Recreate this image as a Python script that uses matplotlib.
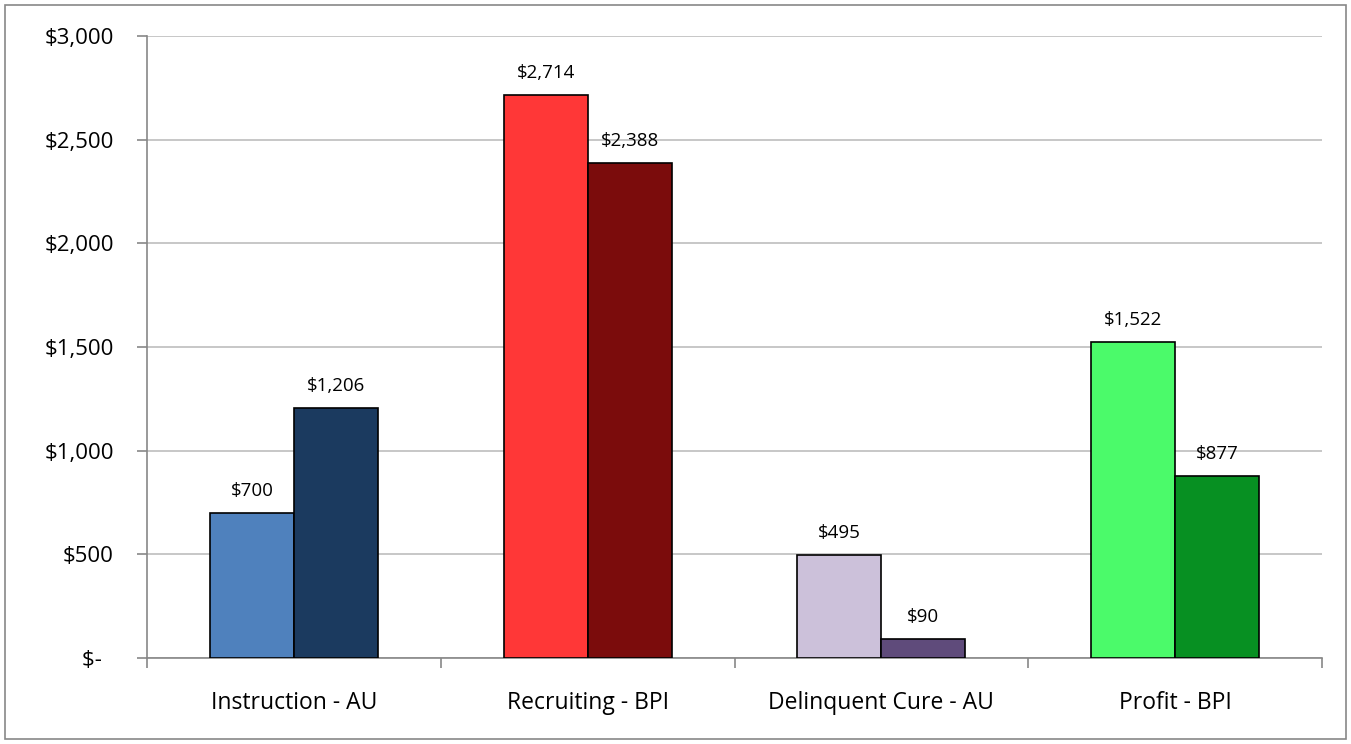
import matplotlib.pyplot as plt
from matplotlib.patches import Rectangle
import numpy as np

categories = ['Instruction - AU', 'Recruiting - BPI', 'Delinquent Cure - AU', 'Profit - BPI']
first_vals = [700, 2714, 495, 1522]
second_vals = [1206, 2388, 90, 877]
first_colors = ['#4F81BD', '#FF3737', '#CCC1DA', '#4BFA6A']
second_colors = ['#1B3A5F', '#7B0C0C', '#5F4B7B', '#079022']
yticks = [0, 500, 1000, 1500, 2000, 2500, 3000]

plt.rcParams['font.family'] = ['Open Sans', 'DejaVu Sans']

fig = plt.figure(figsize=(13.51, 7.44), dpi=100)
ax = fig.add_axes([147/1351, 1-658/744, 1175/1351, 622/744])

x = np.arange(len(categories))
w = 0.286
b1 = ax.bar(x - w/2, first_vals, w, color=first_colors, edgecolor='black', linewidth=1.2, zorder=3)
b2 = ax.bar(x + w/2, second_vals, w, color=second_colors, edgecolor='black', linewidth=1.2, zorder=3)

for bars, vals in [(b1, first_vals), (b2, second_vals)]:
    for r, v in zip(bars, vals):
        ax.annotate(f'${v:,}', (r.get_x() + r.get_width()/2, v), xytext=(0, 9.5),
                    textcoords='offset points', ha='center', va='bottom', fontsize=13.5)

ax.set_xlim(-0.5, 3.5)
ax.set_ylim(0, 3000)
ax.set_yticks(yticks)
ax.set_yticklabels(['$-  '] + [f'${v:,}' for v in yticks[1:]], fontsize=16)
ax.yaxis.grid(True, color='#BEBEBE', linewidth=1.2, zorder=0)
ax.set_axisbelow(True)

ax.set_xticks(np.arange(-0.5, 4, 1))
ax.set_xticklabels([])
ax.set_xticks(x, minor=True)
ax.set_xticklabels(categories, minor=True, fontsize=16.5)
ax.tick_params(axis='x', which='minor', length=0, pad=24)
ax.tick_params(axis='x', which='major', length=7, width=1.2, color='#878787')
ax.tick_params(axis='y', length=7, width=1.2, color='#878787', pad=17)

for s in ['top', 'right']:
    ax.spines[s].set_visible(False)
for s in ['left', 'bottom']:
    ax.spines[s].set_color('#878787')
    ax.spines[s].set_linewidth(1.2)

fig.patches.append(Rectangle((5/1351, 5/744), 1341/1351, 734/744, transform=fig.transFigure,
                             fill=False, edgecolor='#878787', linewidth=1.2))

fig.savefig('out.png', dpi=100)
